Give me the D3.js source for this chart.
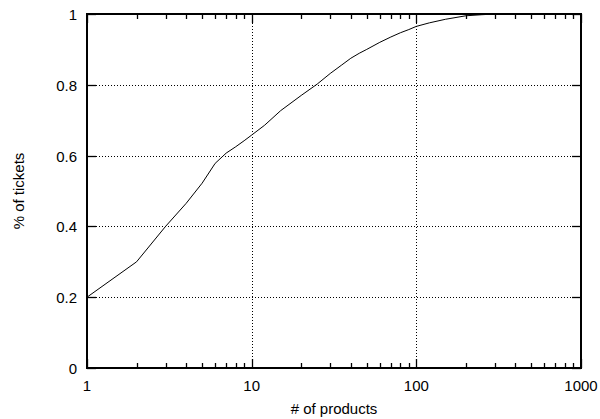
<!DOCTYPE html>
<html>
<head>
<meta charset="utf-8">
<script src="https://cdn.jsdelivr.net/npm/d3@7"></script>
<style>
  body { margin: 0; background: #fff; }
  text { font-family: "Liberation Sans", Arial, sans-serif; fill: #000; }
</style>
</head>
<body>
<svg id="chart" width="600" height="419"></svg>
<script>
// cumulative share of tickets by number of products
const products = [1, 2, 3, 4, 5, 6, 7, 8, 9, 10, 12, 15, 20, 25, 30, 35, 40, 45, 50, 60, 70, 80, 90, 100, 120, 150, 200, 250, 300];
const share = [0.2, 0.3, 0.4, 0.465, 0.522, 0.578, 0.607, 0.625, 0.642, 0.658, 0.686, 0.727, 0.77, 0.802, 0.832, 0.855, 0.875, 0.889, 0.9, 0.92, 0.935, 0.947, 0.956, 0.965, 0.975, 0.985, 0.995, 0.998, 1.0];

const xTicks = [1, 10, 100, 1000];
const yTicks = [0, 0.2, 0.4, 0.6, 0.8, 1];
const xGrid = [10, 100];
const yGrid = [0.2, 0.4, 0.6, 0.8];

const margin = { left: 87, right: 19, top: 14, bottom: 51 };
const W = 600, H = 419;
const svg = d3.select('#chart');

const x = d3.scaleLog().domain([1, 1000]).range([margin.left, W - margin.right]);
const y = d3.scaleLinear().domain([0, 1]).range([H - margin.bottom, margin.top]);

const x0 = x.range()[0], x1 = x.range()[1];
const y0 = y.range()[0], y1 = y.range()[1];

// dotted grid
const grid = svg.append('g')
  .attr('stroke', '#000')
  .attr('stroke-width', 1)
  .attr('stroke-dasharray', '1,2');
grid.selectAll('line.gx').data(xGrid).join('line').attr('class', 'gx')
  .attr('x1', d => Math.round(x(d)) + 0.5).attr('x2', d => Math.round(x(d)) + 0.5)
  .attr('y1', y1).attr('y2', y0);
grid.selectAll('line.gy').data(yGrid).join('line').attr('class', 'gy')
  .attr('x1', x0).attr('x2', x1)
  .attr('y1', d => Math.round(y(d)) + 0.5).attr('y2', d => Math.round(y(d)) + 0.5);

// minor + major ticks on all four sides (pointing inward)
const minor = [];
for (let dec = 1; dec < 1000; dec *= 10) {
  for (let k = 2; k <= 9; k++) minor.push(dec * k);
}
const ticks = svg.append('g').attr('stroke', '#000').attr('stroke-width', 1.3);
const vTick = (cls, data, yA, len) =>
  ticks.selectAll('line.' + cls).data(data).join('line').attr('class', cls)
    .attr('x1', d => Math.round(x(d)) + 0.5).attr('x2', d => Math.round(x(d)) + 0.5)
    .attr('y1', yA).attr('y2', yA + len);
vTick('mb', minor, y0, -5);
vTick('mt', minor, y1, 5);
vTick('Mb', xTicks, y0, -9);
vTick('Mt', xTicks, y1, 9);
const hTick = (cls, xA, len) =>
  ticks.selectAll('line.' + cls).data(yTicks).join('line').attr('class', cls)
    .attr('x1', xA).attr('x2', xA + len)
    .attr('y1', d => Math.round(y(d)) + 0.5).attr('y2', d => Math.round(y(d)) + 0.5);
hTick('Ml', x0, 9);
hTick('Mr', x1, -9);

// the curve
const line = d3.line().x((d, i) => x(products[i])).y(d => y(d));
svg.append('path')
  .datum(share)
  .attr('d', line)
  .attr('fill', 'none')
  .attr('stroke', '#000')
  .attr('stroke-width', 1);

// frame
svg.append('rect')
  .attr('x', x0).attr('y', y1)
  .attr('width', x1 - x0).attr('height', y0 - y1)
  .attr('fill', 'none')
  .attr('stroke', '#000')
  .attr('stroke-width', 2);

// tick labels
svg.selectAll('text.xl').data(xTicks).join('text').attr('class', 'xl')
  .attr('x', d => x(d)).attr('y', y0 + 23)
  .attr('text-anchor', 'middle')
  .style('font-size', '15px')
  .text(d => d);
svg.selectAll('text.yl').data(yTicks).join('text').attr('class', 'yl')
  .attr('x', x0 - 10).attr('y', d => y(d) + 6)
  .attr('text-anchor', 'end')
  .style('font-size', '15px')
  .text(d => d);

// axis titles
svg.append('text')
  .attr('x', (x0 + x1) / 2).attr('y', 414)
  .attr('text-anchor', 'middle')
  .style('font-size', '15px')
  .text('# of products');
svg.append('text')
  .attr('transform', `translate(24,${(y0 + y1) / 2}) rotate(-90)`)
  .attr('text-anchor', 'middle')
  .style('font-size', '15px')
  .text('% of tickets');
</script>
</body>
</html>
